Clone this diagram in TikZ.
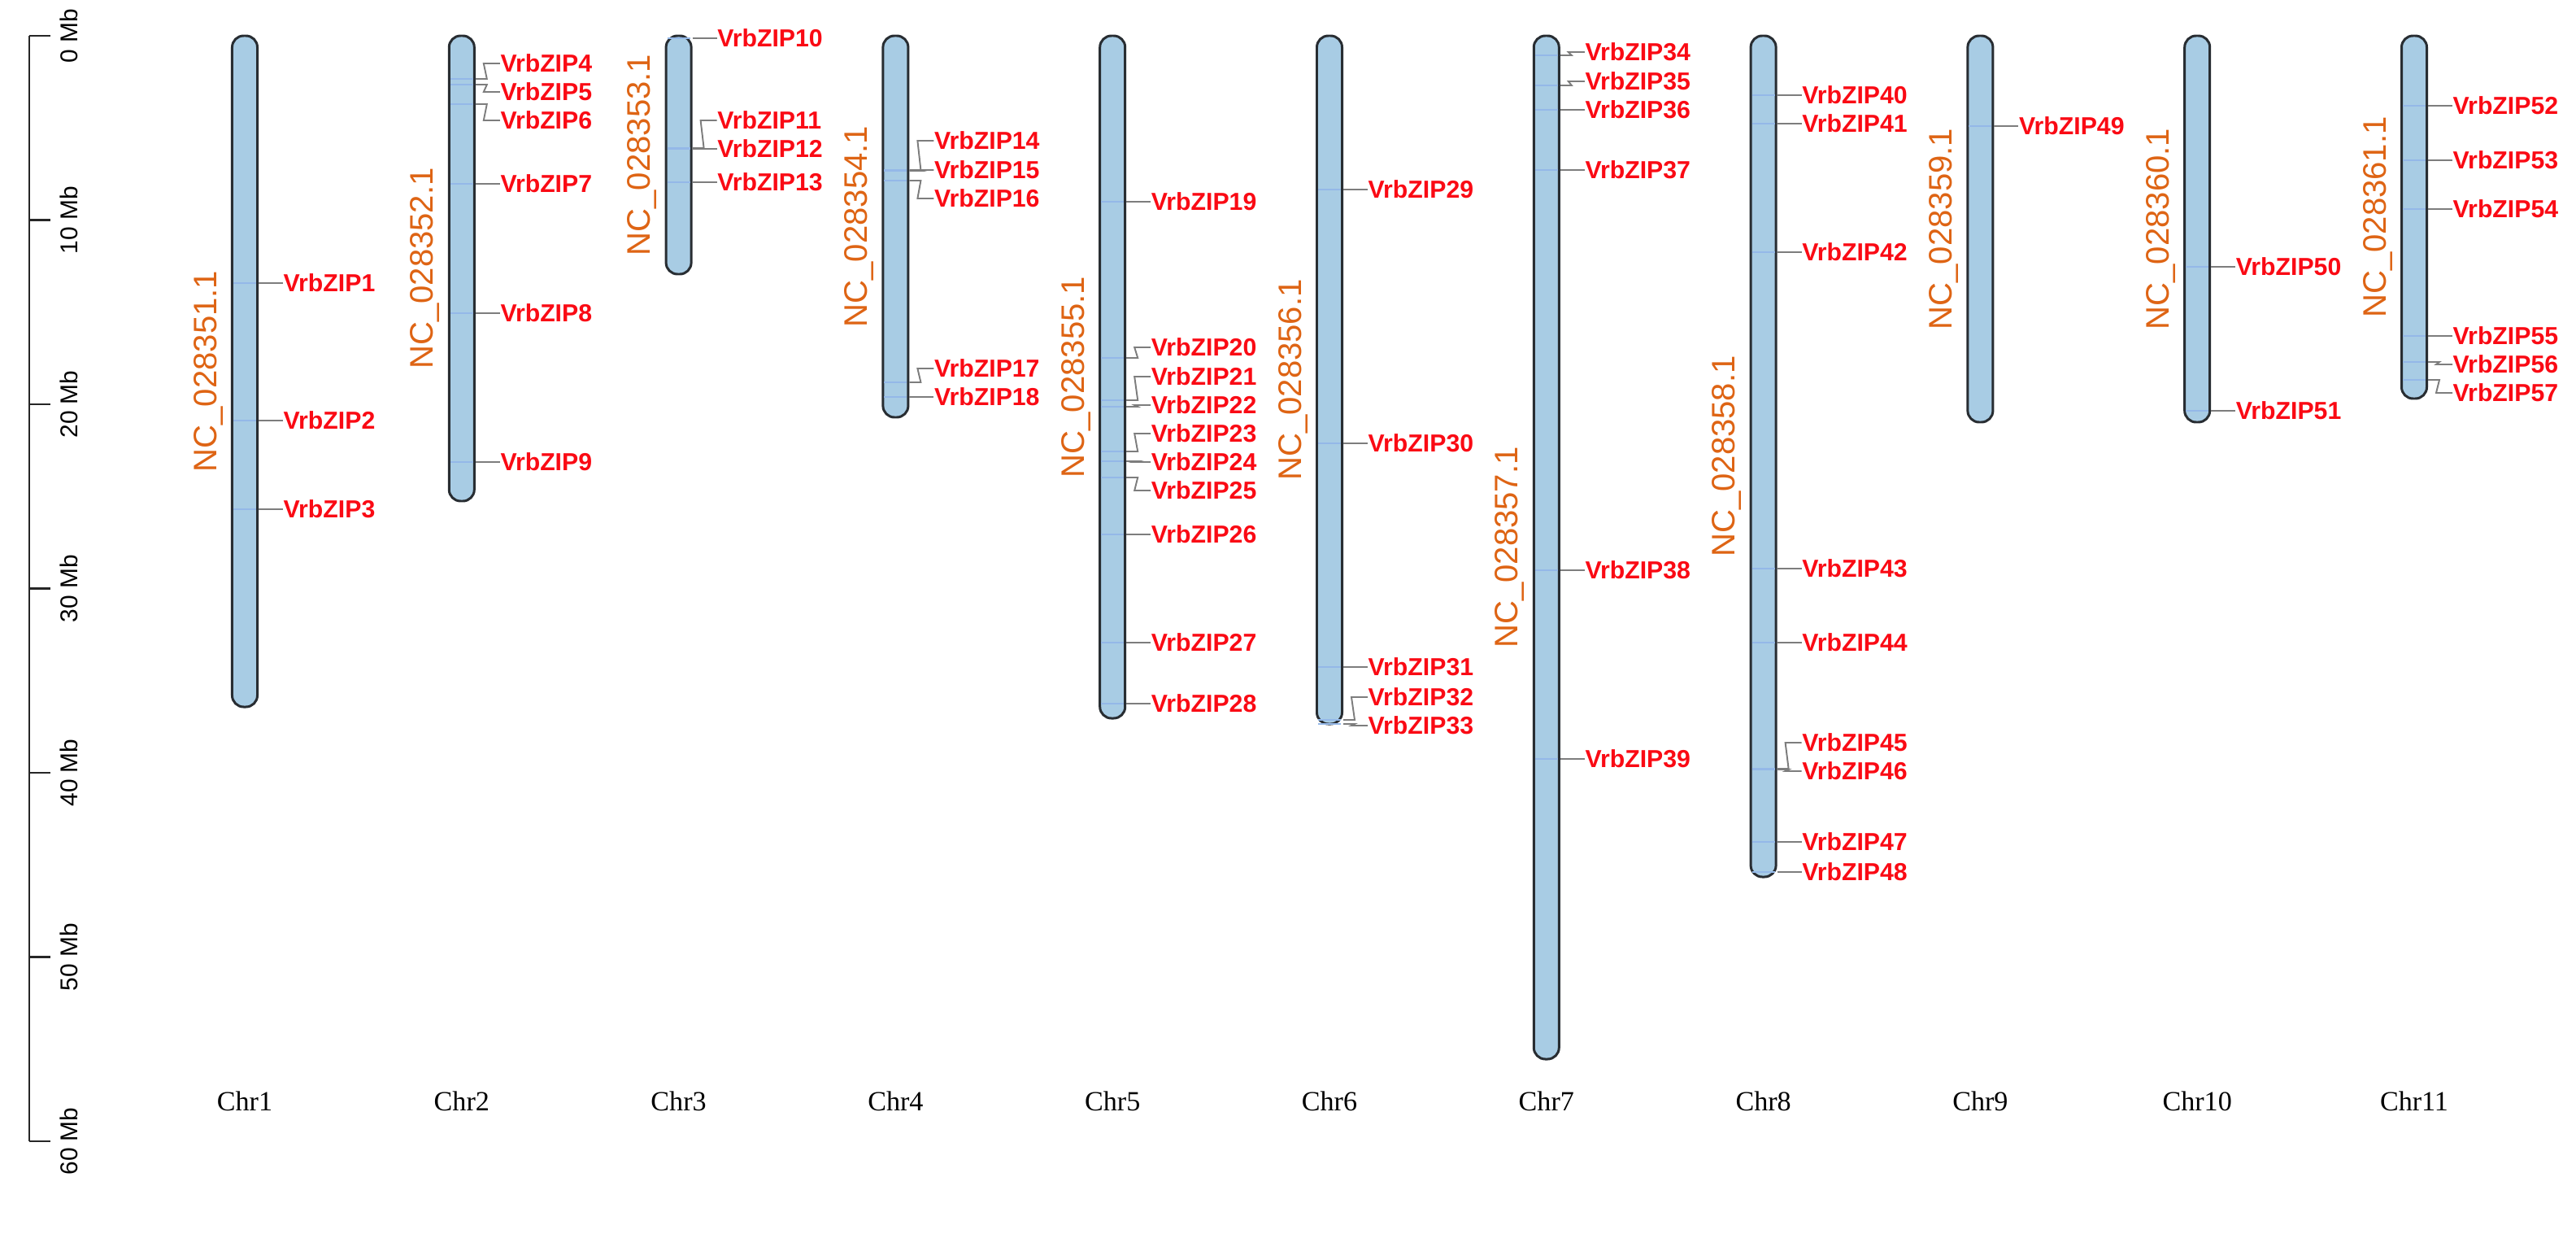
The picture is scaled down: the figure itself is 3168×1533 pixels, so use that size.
\documentclass[tikz,border=0pt]{standalone}
\usepackage{fontspec}
\setmainfont{Liberation Sans}
\newfontfamily\seriffont{Liberation Serif}
\usetikzlibrary{calc}
\definecolor{genered}{RGB}{250,10,20}
\definecolor{ncorange}{RGB}{222,100,20}
\definecolor{chromfill}{RGB}{168,204,228}
\definecolor{chromline}{RGB}{40,45,50}
\definecolor{markblue}{RGB}{148,184,232}
\definecolor{conngray}{RGB}{125,125,125}
\tikzset{
  chrom/.style={draw=chromline, fill=chromfill, line width=0.85pt, rounded corners=4pt, minimum width=0.31cm, inner sep=0pt},
  glab/.style={anchor=west, inner sep=0pt, text=genered, font=\fontsize{8.6pt}{10pt}\selectfont\bfseries},
  nclab/.style={inner sep=0pt, text=ncorange, rotate=90, font=\fontsize{11.4pt}{13pt}\selectfont},
  chrlab/.style={inner sep=0pt, font=\seriffont\fontsize{9.7pt}{11pt}\selectfont},
  axlab/.style={inner sep=0pt, rotate=90, font=\fontsize{8.5pt}{10pt}\selectfont},
  conn/.style={draw=conngray, line width=0.55pt},
  marker/.style={draw=markblue, line width=0.35pt},
  axisline/.style={draw=black!85, line width=0.75pt}
}
\begin{document}
\begin{tikzpicture}[x=0.01cm, y=-0.01cm]
\useasboundingbox (0,0) rectangle (3168,1533);
% scale axis
\coordinate (a0) at (36,44);
\coordinate (a60) at (36,1403);
\draw[axisline] (a0) -- (a60);
\foreach \t/\lab in {0/0,1/10,2/20,3/30,4/40,5/50,6/60} {
  \pgfmathsetmacro\ty{44+\t*226.5}
  \coordinate (t\t) at (36,\ty);
  \draw[axisline] (t\t) -- ++(26,0);
  \node[axlab] (tl\t) at (85,\ty) {\lab{} Mb};
}
% chromosomes
\foreach \k/\h in {1/825,2/572,3/293,4/469,5/839,6/846,7/1258,8/1034,9/475,10/475,11/446} {
  \pgfmathsetmacro\cx{301+(\k-1)*266.8}
  \pgfmathsetmacro\cy{44+\h/2}
  \pgfmathtruncatemacro\num{50+\k}
  \node[chrom, minimum height=\h*0.01cm] (c\k) at (\cx,\cy) {};
  \node[nclab] (nc\k) at (\cx-45,\cy) {NC\_0283\num.1};
  \node[chrlab] (chr\k) at (\cx,1354) {Chr\k};
}
% genes: number / chromosome / actual position / label position
\foreach \n/\c/\yg/\yl in {
  1/1/348/348, 2/1/517/517, 3/1/626/626,
  4/2/97/78, 5/2/104/113, 6/2/128/148, 7/2/226/226, 8/2/385/385, 9/2/568/568,
  10/3/47/47, 11/3/182/148, 12/3/183/183, 13/3/224/224,
  14/4/209/173, 15/4/210/209, 16/4/222/244, 17/4/470/453, 18/4/488/488,
  19/5/248/248, 20/5/440/427, 21/5/492/463, 22/5/500/498, 23/5/555/533, 24/5/567/568, 25/5/587/603, 26/5/657/657, 27/5/790/790, 28/5/865/865,
  29/6/233/233, 30/6/545/545, 31/6/820/820, 32/6/885/857, 33/6/890/892,
  34/7/68/64, 35/7/105/100, 36/7/135/135, 37/7/209/209, 38/7/701/701, 39/7/933/933,
  40/8/117/117, 41/8/152/152, 42/8/310/310, 43/8/699/699, 44/8/790/790, 45/8/945/913, 46/8/946/948, 47/8/1035/1035, 48/8/1072/1072,
  49/9/155/155,
  50/10/328/328, 51/10/505/505,
  52/11/130/130, 53/11/197/197, 54/11/257/257, 55/11/413/413, 56/11/445/448, 57/11/467/483} {
  \coordinate (m\n) at (c\c.east |- 0,\yg);
  \coordinate (w\n) at (c\c.west |- 0,\yg);
  \draw[marker] ($(w\n)+(3,0)$) -- ($(m\n)+(-3,0)$);
  \node[glab] (z\n) at ($(m\n |- 0,\yl)+(30,0)$) {VrbZIP\n};
  \draw[conn] (m\n) -- ++(14,0) -- ($(z\n.west)+(-20,0)$) -- (z\n.west);
}
\end{tikzpicture}
\end{document}
